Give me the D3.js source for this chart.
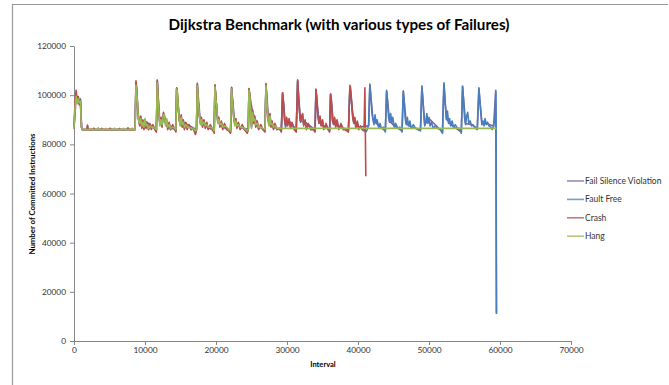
<!DOCTYPE html>
<html>
<head>
<meta charset="utf-8">
<script src="https://cdn.jsdelivr.net/npm/d3@7"></script>
<style>
  html, body { margin: 0; padding: 0; background: #fff; }
  svg { display: block; font-family: Lato, "Open Sans", sans-serif; }
</style>
</head>
<body>
<svg id="chart" width="669" height="385"></svg>
<script>
const titleText = "Dijkstra Benchmark (with various types of Failures)";
const xTitle = "Interval";
const yTitle = "Number of Committed Instructions";
const xTicks = [0, 10000, 20000, 30000, 40000, 50000, 60000, 70000];
const yTicks = [0, 20000, 40000, 60000, 80000, 100000, 120000];
const seriesNames = ["Fail Silence Violation", "Fault Free", "Crash", "Hang"];
const seriesColors = ["#7D60A0", "#4A7EBB", "#BE4B48", "#98B954"];

// Fault Free
const faultFree = [
  [0,86500],[150,96000],[300,99000],[450,97000],[600,99000],[750,96500],[900,98500],[1050,87000],[1200,86000],
  [1800,86000],[1900,87400],[2000,86000],[8600,86000],
  [8730,105000],[8850,101500],[8950,96000],[9100,90000],[9250,88000],[9400,91000],[9550,87000],[9700,89500],[9850,86500],[10000,90000],[10150,87000],[10300,88500],[10500,86000],[10700,88000],[10900,86500],[11100,87500],[11400,86000],[11600,85500],
  [11730,105800],[11850,98000],[11950,93000],[12100,88000],[12250,90500],[12400,87500],[12600,92500],[12750,91500],[12900,88000],[13050,90000],[13200,86500],[13400,88500],[13600,86000],[13900,87500],[14200,86000],[14350,85500],
  [14460,102800],[14550,101000],[14650,97000],[14800,90500],[14950,88000],[15100,91500],[15250,87500],[15400,89500],[15550,86500],[15750,88500],[15950,86500],[16200,87500],[16500,86000],[16800,86500],[17100,84500],[17250,86000],
  [17370,104500],[17500,97000],[17650,92000],[17800,88500],[17950,90500],[18100,87500],[18300,89500],[18500,87000],[18700,88500],[18900,86500],[19200,87500],[19500,86000],[19750,85000],
  [19850,104000],[19980,99000],[20100,95000],[20250,89000],[20400,90500],[20550,87500],[20750,89000],[20950,86500],[21200,88000],[21500,86500],[21800,85500],[22050,85000],
  [22200,103000],[22330,97000],[22500,91000],[22650,88000],[22800,90000],[22950,87000],[23150,88500],[23400,86500],[23700,87500],[24000,86000],[24400,85000],[24550,86000],
  [24640,102500],[24750,100000],[24900,91500],[25000,87000],[25150,93500],[25300,89000],[25450,91000],[25600,87500],[25800,89000],[26000,86500],[26300,87500],[26600,86000],[26900,85500],
  [27040,104500],[27150,98000],[27300,91000],[27450,88000],[27600,92000],[27750,87500],[27900,89000],[28100,86500],[28300,88000],[28600,86000],[28900,86500],[29200,85500],
  [29380,101000],[29500,97000],[29650,90500],[29800,87000],[29950,90500],[30100,88000],[30300,90000],[30500,87000],[30700,88500],[31000,86500],[31300,85500],
  [31500,106000],[31620,99000],[31750,94000],[31900,89000],[32050,91000],[32200,92000],[32350,88000],[32550,89500],[32750,86500],[33000,88000],[33300,86500],[33700,86000],[33950,85500],
  [34080,102400],[34200,98000],[34350,92000],[34500,88500],[34650,91000],[34800,88000],[35000,89500],[35200,86500],[35500,88000],[35800,86000],[36000,85500],
  [36140,100500],[36250,97500],[36400,90000],[36550,88000],[36700,90500],[36850,87500],[37050,89500],[37300,86500],[37600,88000],[37900,86500],[38200,86000],[38650,85500],
  [38860,103000],[38950,102000],[39100,97000],[39250,91500],[39400,88500],[39550,90500],[39700,87000],[39900,89000],[40100,86500],[40350,87000],[40600,86000],[40900,86000],
  [41100,85000],[41300,86000],[41500,88000],
  [41670,104500],[41800,100000],[41950,93000],[42100,90000],[42250,88000],[42400,92000],[42550,88500],[42700,90000],[42900,87000],[43100,88500],[43300,86500],[43600,87000],[43850,85000],
  [44030,102000],[44150,98000],[44300,91000],[44450,89000],[44600,92500],[44750,89000],[44900,91000],[45100,87000],[45300,88500],[45600,86500],[45900,87000],[46200,85000],
  [46380,101800],[46500,97500],[46650,90500],[46800,88000],[46950,91000],[47100,87500],[47300,89500],[47500,86500],[47800,88000],[48100,86500],[48400,86000],[48800,85500],
  [49000,103700],[49120,99000],[49250,93000],[49400,87500],[49550,89500],[49700,92500],[49850,88500],[50000,91000],[50150,87500],[50350,89000],[50600,86500],[50900,87500],[51200,86500],[51600,86000],[51900,84500],
  [52100,105000],[52200,101000],[52300,96000],[52450,90000],[52600,93500],[52750,88500],[52900,90500],[53050,87500],[53250,89500],[53450,87000],[53700,88000],[54000,86500],[54300,86500],[54550,84500],
  [54730,103700],[54850,98500],[55000,91000],[55150,88000],[55300,91500],[55450,93000],[55600,88500],[55800,89500],[56000,87500],[56200,88000],[56500,86500],[56800,86000],
  [57030,103000],[57150,98000],[57300,93000],[57450,88000],[57600,89500],[57750,87500],[57900,90500],[58050,88000],[58250,89000],[58450,87500],[58700,87000],[58900,86000],[59100,87500],
  [59300,91000],[59400,102000],[59450,92000],[59500,11000]
];

// Crash
const crash = [
  [0,86500],[150,97500],[300,102000],[420,98500],[600,99500],[750,96000],[900,98000],[1050,87000],[1200,86000],
  [1800,86000],[1900,87800],[2000,86000],[2700,86000],[2800,86600],[2900,86000],[3800,86000],[3900,86500],[4000,86000],
  [5000,86000],[5100,86600],[5200,86000],[6300,86000],[6400,86500],[6500,86000],[7500,86000],[7600,86700],[7700,86000],[8600,86000],
  [8730,105800],[8850,102500],[8950,95500],[9100,90500],[9250,87500],[9400,91500],[9550,86500],[9700,90000],[9850,86000],[10000,89500],[10150,86500],[10300,89000],[10500,86000],[10700,88500],[10900,86000],[11100,88000],[11400,86000],[11600,85000],
  [11730,106200],[11850,99000],[11950,92500],[12100,88500],[12250,91000],[12400,87000],[12600,93000],[12750,91000],[12900,88500],[13050,89500],[13200,86000],[13400,89000],[13600,86000],[13900,88000],[14200,86000],[14350,85000],
  [14460,103000],[14550,100500],[14650,97500],[14800,90000],[14950,88500],[15100,92000],[15250,87000],[15400,90000],[15550,86000],[15750,89000],[15950,86000],[16200,88000],[16500,86000],[16800,86500],[17100,84000],[17250,86000],
  [17370,104800],[17500,97500],[17650,91500],[17800,89000],[17950,91000],[18100,87000],[18300,90000],[18500,86500],[18700,89000],[18900,86000],[19200,88000],[19500,86000],[19750,84500],
  [19850,104200],[19980,99500],[20100,94500],[20250,89500],[20400,91000],[20550,87000],[20750,89500],[20950,86000],[21200,88500],[21500,86000],[21800,85500],[22050,84500],
  [22200,103200],[22330,97500],[22500,90500],[22650,88500],[22800,90500],[22950,86500],[23150,89000],[23400,86000],[23700,88000],[24000,86000],[24400,84500],[24550,86000],
  [24640,102700],[24750,100500],[24900,91000],[25000,87500],[25150,94000],[25300,88500],[25450,91500],[25600,87000],[25800,89500],[26000,86000],[26300,88000],[26600,86000],[26900,85000],
  [27040,104700],[27150,98500],[27300,90500],[27450,88500],[27600,92500],[27750,87000],[27900,89500],[28100,86000],[28300,88500],[28600,86000],[28900,86500],[29200,85000],
  [29380,101000],[29500,97500],[29650,90000],[29800,87500],[29950,91000],[30100,87500],[30300,90500],[30500,86500],[30700,89000],[31000,86000],[31300,85000],
  [31500,106200],[31620,99500],[31750,93500],[31900,89500],[32050,91500],[32200,92500],[32350,87500],[32550,90000],[32750,86000],[33000,88500],[33300,86000],[33700,86000],[33950,85000],
  [34080,102400],[34200,98500],[34350,91500],[34500,89000],[34650,91500],[34800,87500],[35000,90000],[35200,86000],[35500,88500],[35800,86000],[36000,85000],
  [36140,100500],[36250,98000],[36400,89500],[36550,88500],[36700,91000],[36850,87000],[37050,90000],[37300,86000],[37600,88500],[37900,86000],[38200,86000],[38650,85000],
  [38860,104000],[38950,103000],[39100,97500],[39250,91000],[39400,89000],[39550,91000],[39700,86500],[39900,89500],[40100,86000],[40350,87500],[40600,86000],[40850,85500],
  [40970,103000],[41100,67000]
];

// Hang
const hang = [
  [0,86500],[150,95000],[300,99500],[450,96500],[600,98500],[750,97000],[900,97500],[1050,87000],[1200,86000],
  [2300,86000],[2400,86500],[2500,86000],[3300,86000],[3400,86700],[3500,86000],[4400,86000],[4500,86500],[4600,86000],
  [5600,86000],[5700,86600],[5800,86000],[6900,86000],[7000,86500],[7100,86000],[8100,86000],[8200,86600],[8300,86000],[8600,86000],
  [8730,104000],[8850,100500],[8950,96500],[9100,89500],[9250,88500],[9400,90500],[9550,87500],[9700,89000],[9850,87000],[10000,90500],[10150,87500],[10300,88000],[10500,86500],[10700,87500],[10900,87000],[11100,87000],[11400,86500],[11600,86000],
  [11730,105000],[11850,97000],[11950,93500],[12100,87500],[12250,90000],[12400,88000],[12600,92000],[12750,92000],[12900,87500],[13050,90500],[13200,87000],[13400,88000],[13600,86500],[13900,87000],[14200,86500],[14350,86000],
  [14460,102500],[14550,101500],[14650,96500],[14800,91000],[14950,87500],[15100,91000],[15250,88000],[15400,89000],[15550,87000],[15750,88000],[15950,87000],[16200,87000],[16500,86500],[16800,86500],[17100,85500],[17250,86000],
  [17370,104000],[17500,96500],[17650,92500],[17800,88000],[17950,90000],[18100,88000],[18300,89000],[18500,87500],[18700,88000],[18900,87000],[19200,87000],[19500,86500],[19750,85500],
  [19850,103500],[19980,98500],[20100,95500],[20250,88500],[20400,90000],[20550,88000],[20750,88500],[20950,87000],[21200,87500],[21500,87000],[21800,86000],[22050,85500],
  [22200,102500],[22330,96500],[22500,91500],[22650,87500],[22800,89500],[22950,87500],[23150,88000],[23400,87000],[23700,87000],[24000,86500],[24400,85500],[24550,86000],
  [24640,102000],[24750,99500],[24900,92000],[25000,86500],[25150,93000],[25300,89500],[25450,90500],[25600,88000],[25800,88500],[26000,87000],[26300,87000],[26600,86500],[26900,86000],
  [27040,104000],[27150,97500],[27300,91500],[27450,87500],[27600,91500],[27750,88000],[27900,88500],[28100,87000],[28300,87500],[28600,86500],[29000,86500],
  [59500,86500]
];

// Fail Silence Violation
const failSilence = [
  [0,86500],[300,99000],[900,98000],[1100,86000],[8600,86000],
  [8730,104500],[9100,90000],[9550,87500],[10000,89500],[11600,86000],
  [11730,105500],[12100,88500],[12600,92000],[13200,87000],[14350,86000],
  [14460,102500],[14800,91000],[15400,89000],[17250,86000],
  [17370,104000],[17800,89000],[18500,87500],[19750,85500],
  [19850,103500],[20250,89500],[20950,87000],[22050,85500],
  [22200,102500],[22650,88500],[23400,87000],[24550,86000],
  [24640,102000],[25150,93000],[26000,87000],[26900,86000],
  [27040,104000],[27450,88500],[28100,87000],[29200,86000],
  [29380,100500],[29800,87500],[30300,89500],[31300,86000],
  [31500,105500],[31900,89500],[32550,89000],[33950,86000],
  [34080,102000],[34500,89000],[35200,87000],[36000,86000],
  [36140,100000],[36550,88500],[37300,87000],[38650,86000],
  [38860,103000],[39400,89000],[40100,87000],[41500,87500],
  [41670,104000],[42100,90500],[42900,87500],[43850,85500],
  [44030,101500],[44450,89500],[45100,87500],[46200,85500],
  [46380,101500],[46800,88500],[47500,87000],[48800,86000],
  [49000,103500],[49400,88000],[50000,90500],[51900,85000],
  [52100,104500],[52450,90500],[53050,88000],[54550,85000],
  [54730,103500],[55150,88500],[56000,88000],[56800,86500],
  [57030,102500],[57450,88500],[58050,88500],[59100,87500],
  [59400,101500],[59500,11500]
];

const seriesData = [failSilence, faultFree, crash, hang];

const svg = d3.select("#chart");

// chart frame (only top and left visible in crop)
svg.append("line").attr("x1", 12).attr("x2", 668).attr("y1", 4.5).attr("y2", 4.5)
  .attr("stroke", "#9a9a9a").attr("stroke-width", 1.2);
svg.append("line").attr("x1", 12.5).attr("x2", 12.5).attr("y1", 4).attr("y2", 385)
  .attr("stroke", "#9a9a9a").attr("stroke-width", 1.2);

const x = d3.scaleLinear().domain([0, 70000]).range([74, 571]);
const y = d3.scaleLinear().domain([0, 120000]).range([341, 46]);

// Title
svg.append("text")
  .attr("x", 339).attr("y", 30)
  .attr("text-anchor", "middle")
  .attr("font-size", 15).attr("font-weight", "bold").attr("fill", "#000")
  .attr("textLength", 341).attr("lengthAdjust", "spacingAndGlyphs")
  .text(titleText);

// Axes
const yAxis = d3.axisLeft(y).tickValues(yTicks).tickSize(4).tickSizeOuter(0).tickPadding(4).tickFormat(d3.format("d"));
const xAxis = d3.axisBottom(x).tickValues(xTicks).tickSize(4).tickSizeOuter(0).tickPadding(2).tickFormat(d3.format("d"));

const gy = svg.append("g").attr("transform", "translate(74,0)").call(yAxis);
const gx = svg.append("g").attr("transform", "translate(0,341)").call(xAxis);
[gx, gy].forEach(g => {
  g.select(".domain").attr("stroke", "#868686").attr("stroke-width", 1);
  g.selectAll(".tick line").attr("stroke", "#868686");
  g.selectAll(".tick text").attr("font-family", "Lato, sans-serif").attr("font-size", 8.3).attr("fill", "#333");
});

// Axis titles
svg.append("text")
  .attr("x", 323).attr("y", 367)
  .attr("text-anchor", "middle")
  .attr("font-size", 7.5).attr("font-weight", "bold").attr("fill", "#000")
  .text(xTitle);
svg.append("text")
  .attr("transform", "translate(35,194) rotate(-90)")
  .attr("text-anchor", "middle")
  .attr("font-size", 7.5).attr("font-weight", "bold").attr("fill", "#000")
  .attr("textLength", 121).attr("lengthAdjust", "spacingAndGlyphs")
  .text(yTitle);

// Lines
const line = d3.line().x(d => x(d[0])).y(d => y(d[1]));
seriesData.forEach((data, i) => {
  svg.append("path")
    .datum(data)
    .attr("fill", "none")
    .attr("stroke", seriesColors[i])
    .attr("stroke-width", 1.6)
    .attr("stroke-linejoin", "round")
    .attr("d", line);
});

// Legend
const legend = svg.append("g");
seriesNames.forEach((name, i) => {
  const ly = 181 + i * 18.4;
  legend.append("line")
    .attr("x1", 567).attr("x2", 584).attr("y1", ly).attr("y2", ly)
    .attr("stroke", seriesColors[i]).attr("stroke-width", 1.6).attr("opacity", 0.75);
  legend.append("text")
    .attr("x", 585).attr("y", ly + 3)
    .attr("font-size", 8.5).attr("fill", "#333")
    .text(name);
});
</script>
</body>
</html>
